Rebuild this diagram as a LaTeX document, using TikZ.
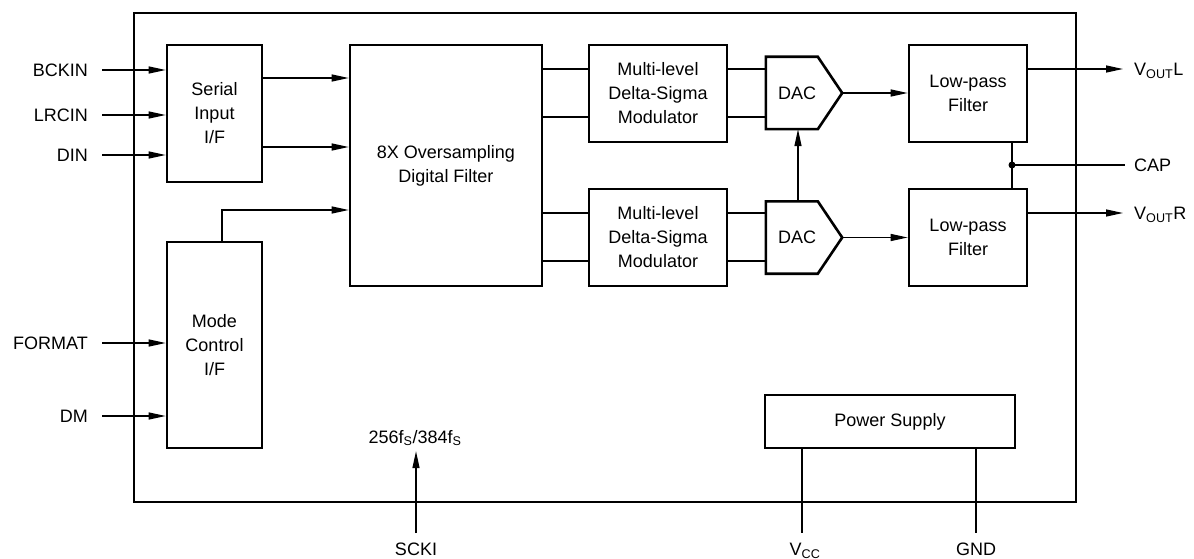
\documentclass[tikz,border=0pt]{standalone}
\usepackage{fontspec}
\setmainfont{Liberation Sans}
\usetikzlibrary{arrows.meta,calc}
\begin{document}
\begin{tikzpicture}[x=1pt,y=-1pt,
  every node/.style={font=\fontsize{18}{24}\selectfont, inner sep=0pt},
  blk/.style={draw, line width=2.6pt, align=center},
  dacline/.style={line width=2.6pt, line join=miter},
  wire/.style={line width=1.3pt},
  arr/.style={wire, -{Triangle[length=17pt,width=7pt]}}]
\useasboundingbox (0,0) rectangle (1194,559);
% chip outline
\node[blk, minimum width=942pt, minimum height=489pt] (chip) at (605,257.5) {};
% blocks
\node[blk, minimum width=95pt, minimum height=137pt] (serial) at (214.5,113.5) {Serial\\Input\\I/F};
\node[blk, minimum width=192pt, minimum height=241pt] (filt) at (446,165.5) {8X Oversampling\\Digital Filter};
\node[blk, minimum width=95pt, minimum height=206pt] (mode) at (214.5,345) {Mode\\Control\\I/F};
\node[blk, minimum width=138pt, minimum height=97pt] (mod1) at (658,93.5) {Multi-level\\Delta-Sigma\\Modulator};
\node[blk, minimum width=138pt, minimum height=97pt] (mod2) at (658,237.5) {Multi-level\\Delta-Sigma\\Modulator};
\node[blk, minimum width=118pt, minimum height=97pt] (lpf1) at (968,93.5) {Low-pass\\Filter};
\node[blk, minimum width=118pt, minimum height=97pt] (lpf2) at (968,237.5) {Low-pass\\Filter};
\node[blk, minimum width=250pt, minimum height=53pt] (pwr) at (890,421.5) {Power Supply};
% DACs
\node[minimum width=76pt, minimum height=72pt] (dac1) at (804,93) {};
\draw[dacline] (dac1.north west) -- ++(52,0) -- (dac1.east) -- ($(dac1.south west)+(52,0)$) -- (dac1.south west) -- cycle;
\node (dac1t) at (797,93) {DAC};
\node[minimum width=76pt, minimum height=72pt] (dac2) at (804,237.5) {};
\draw[dacline] (dac2.north west) -- ++(52,0) -- (dac2.east) -- ($(dac2.south west)+(52,0)$) -- (dac2.south west) -- cycle;
\node (dac2t) at (797,237.5) {DAC};
% input labels
\node[anchor=east] (bckin) at (88,70) {BCKIN};
\node[anchor=east] (lrcin) at (88,115) {LRCIN};
\node[anchor=east] (din) at (88,155) {DIN};
\node[anchor=east] (format) at (88,343) {FORMAT};
\node[anchor=east] (dm) at (88,416) {DM};
\draw[arr, shorten <=14pt] (bckin.east) -- (serial.west |- bckin.east);
\draw[arr, shorten <=14pt] (lrcin.east) -- (serial.west |- lrcin.east);
\draw[arr, shorten <=14pt] (din.east) -- (serial.west |- din.east);
\draw[arr, shorten <=14pt] (format.east) -- (mode.west |- format.east);
\draw[arr, shorten <=14pt] (dm.east) -- (mode.west |- dm.east);
% serial -> filter
\draw[arr] (serial.east |- 0,78) -- (filt.west |- 0,78);
\draw[arr] (serial.east |- 0,147) -- (filt.west |- 0,147);
% mode -> filter
\draw[arr] ([xshift=7.5pt]mode.north) |- (filt.west |- 0,210);
% filter -> modulators
\draw[wire] (filt.east |- 0,69) -- (mod1.west |- 0,69);
\draw[wire] (filt.east |- 0,117) -- (mod1.west |- 0,117);
\draw[wire] (filt.east |- 0,213) -- (mod2.west |- 0,213);
\draw[wire] (filt.east |- 0,261) -- (mod2.west |- 0,261);
% modulators -> DACs
\draw[wire] (mod1.east |- 0,69) -- (dac1.west |- 0,69);
\draw[wire] (mod1.east |- 0,117) -- (dac1.west |- 0,117);
\draw[wire] (mod2.east |- 0,213) -- (dac2.west |- 0,213);
\draw[wire] (mod2.east |- 0,261) -- (dac2.west |- 0,261);
% DAC2 -> DAC1
\draw[arr] ([xshift=-6pt]dac2.north) -- ([xshift=-6pt]dac1.south);
% DAC -> LPF
\draw[arr] (dac1.east) -- (lpf1.west |- dac1.east);
\draw[arr] (dac2.east) -- (lpf2.west |- dac2.east);
% outputs
\node[anchor=base west] (voutl) at (1134,75.5) {V\textsubscript{OUT}L};
\node[anchor=base west] (voutr) at (1134,219.5) {V\textsubscript{OUT}R};
\draw[arr, shorten >=11pt] (lpf1.east |- 0,69) -- (voutl.west |- 0,69);
\draw[arr, shorten >=11pt] (lpf2.east |- 0,213) -- (voutr.west |- 0,213);
% CAP
\coordinate (capj) at (1012,165);
\draw[wire] (lpf1.south -| capj) -- (lpf2.north -| capj);
\fill (capj) circle (3.5pt);
\node[anchor=west] (cap) at (1134,165) {CAP};
\draw[wire, shorten >=9pt] (capj) -- (cap.west);
% SCKI
\node[anchor=north] (scki) at (416,543) {SCKI};
\node[anchor=base] (fs) at (415,443) {256f\textsubscript{S}/384f\textsubscript{S}};
\draw[arr, shorten <=10pt, shorten >=5pt] (scki.north) -- (scki.north |- fs.south);
% power
\node[anchor=north] (vcc) at (805,543) {V\textsubscript{CC}};
\node[anchor=north] (gnd) at (976,543) {GND};
\coordinate (vccend) at (802,533);
\coordinate (gndend) at (976,533);
\draw[wire] (pwr.south -| vccend) -- (vccend);
\draw[wire] (pwr.south -| gndend) -- (gndend);
\end{tikzpicture}
\end{document}
